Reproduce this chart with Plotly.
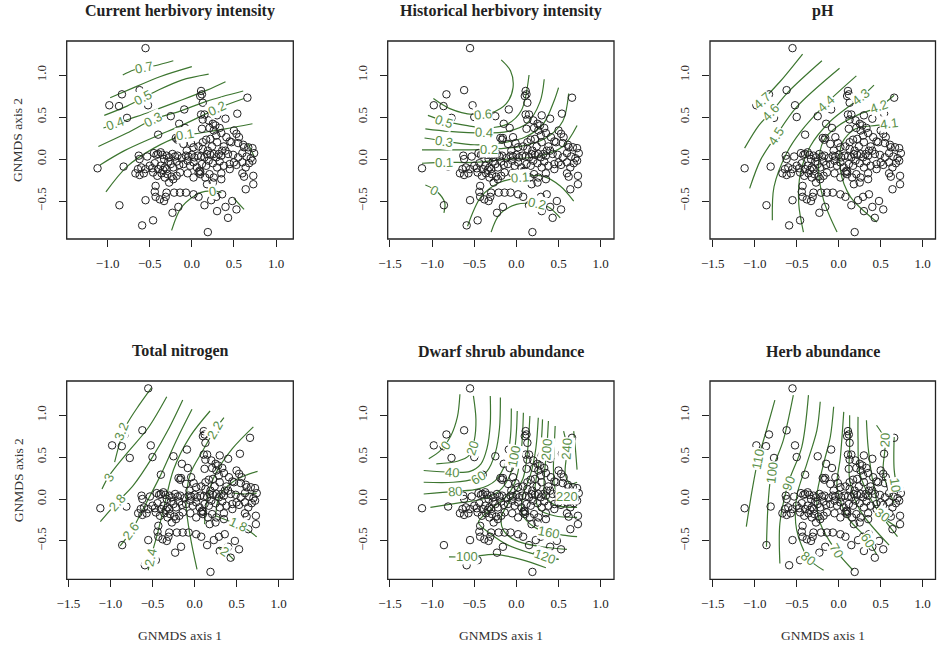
import math
import plotly.graph_objects as go

W, H = 937, 645

# ---------------- data: site scores (GNMDS axis 1 / axis 2) ----------------
site_x = [
    -0.55, -0.62, -0.83, -0.98, -0.865, -0.77, -0.52, -0.50, -0.09, -0.25,
    0.11, 0.12, 0.10, 0.66, 0.54, 0.13, 0.11, 0.15, 0.13, 0.30,
    0.40, 0.20, 0.25, -0.15, -0.08, -0.40, 0.12, 0.21, 0.28, 0.33,
    0.35, 0.26, 0.50, 0.53, 0.56, 0.45, 0.41,
    -0.19, -0.16, -0.17, -0.04, -0.01, 0.02, 0.08, 0.13, 0.17, 0.22,
    0.29, 0.38, 0.40, 0.47, 0.55, 0.61, 0.62, 0.67, 0.72, 0.30,
    0.24, 0.19, -0.10, -0.06,
    -0.63, -0.62, -0.53, -0.45, -0.42, -0.40, -0.37, -0.35, -0.33, -0.30,
    -0.27, -0.23, -0.20, -0.17, -0.12, -0.07, -0.04, 0.00, 0.03, 0.07,
    0.11, 0.15, 0.18, 0.22, 0.26, 0.29, 0.32, 0.35, 0.43, 0.49,
    0.55, 0.60, 0.65, 0.70, 0.74, 0.13, 0.36,
    -1.12, -0.81, -0.67, -0.64, -0.60, -0.55, -0.50, -0.47, -0.44, -0.40,
    -0.37, -0.34, -0.32, -0.30, -0.28, -0.25, -0.22, -0.18, -0.15, -0.10,
    -0.05, -0.02, 0.02, 0.06, 0.09, 0.10, 0.12, 0.17, 0.20, 0.25,
    0.30, 0.33, 0.38, 0.45, 0.50, 0.53, 0.60, 0.64, 0.68, 0.72,
    -0.62, -0.57, -0.46, -0.41, -0.36, -0.32, -0.29, -0.27, -0.24, -0.22,
    -0.18, -0.14, -0.05, 0.02, 0.08, 0.10, 0.16, 0.21, 0.26, 0.35,
    0.35, 0.45, 0.60, 0.62, 0.73, 0.73, 0.18, 0.25,
    -0.43, -0.44, -0.43, -0.38, -0.33, -0.31, -0.55, -0.86, -0.46, -0.59,
    -0.23, -0.16, -0.30, -0.21, -0.14, -0.07, 0.02, 0.08, 0.15, 0.19,
    0.23, 0.29, 0.36, 0.30, 0.40, 0.48, 0.53, 0.43, 0.64,
]
site_y = [
    1.32, 0.82, 0.77, 0.64, 0.63, 0.49, 0.64, 0.50, 0.59, 0.51,
    0.81, 0.77, 0.75, 0.73, 0.54, 0.67, 0.53, 0.53, 0.47, 0.52,
    0.48, 0.46, 0.42, 0.42, 0.37, 0.29, 0.36, 0.37, 0.40, 0.37,
    0.31, 0.34, 0.34, 0.30, 0.26, 0.21, 0.26,
    0.25, 0.25, 0.23, 0.26, 0.19, 0.14, 0.15, 0.20, 0.23, 0.24,
    0.28, 0.15, 0.10, 0.20, 0.19, 0.17, 0.14, 0.14, 0.13, 0.20,
    0.15, 0.10, 0.18, 0.10,
    0.04, 0.00, 0.03, 0.07, 0.05, 0.06, 0.08, 0.05, 0.00, 0.04,
    0.02, 0.06, 0.03, 0.04, 0.01, 0.04, 0.03, 0.05, 0.02, 0.04,
    0.03, 0.02, 0.06, 0.05, 0.06, 0.02, 0.06, 0.04, 0.06, 0.05,
    0.02, 0.07, 0.03, 0.01, 0.07, 0.12, 0.10,
    -0.11, -0.09, -0.17, -0.12, -0.10, -0.12, -0.08, -0.11, -0.05, -0.12,
    -0.08, -0.13, -0.10, -0.12, -0.03, -0.06, -0.10, -0.03, -0.07, -0.06,
    -0.02, -0.08, -0.04, -0.10, -0.14, -0.15, -0.06, -0.08, -0.02, -0.05,
    -0.10, -0.03, -0.08, -0.06, -0.04, -0.07, -0.04, -0.10, -0.05, -0.02,
    -0.19, -0.17, -0.16, -0.20, -0.17, -0.22, -0.18, -0.28, -0.21, -0.24,
    -0.20, -0.16, -0.17, -0.22, -0.16, -0.18, -0.22, -0.18, -0.22, -0.17,
    -0.24, -0.12, -0.17, -0.21, -0.20, -0.30, -0.30, -0.28,
    -0.32, -0.39, -0.45, -0.48, -0.50, -0.45, -0.49, -0.55, -0.73, -0.79,
    -0.64, -0.57, -0.40, -0.40, -0.40, -0.40, -0.42, -0.45, -0.55, -0.87,
    -0.49, -0.45, -0.42, -0.62, -0.57, -0.50, -0.60, -0.70, -0.36,
]

panel_titles = ["Current herbivory intensity", "Historical herbivory intensity", "pH",
                "Total nitrogen", "Dwarf shrub abundance", "Herb abundance"]

x_ticks_first = [-1.0, -0.5, 0.0, 0.5, 1.0]
x_ticks_other = [-1.5, -1.0, -0.5, 0.0, 0.5, 1.0]
y_ticks = [-0.5, 0.0, 0.5, 1.0]
x_title = "GNMDS axis 1"
y_title = "GNMDS axis 2"

# ---------------- fitted-surface isolines ----------------
# (label, x values, y values, label x, label y)
iso_current = [
    ("0.7", [-0.82, -0.69, -0.44, -0.22], [1.00, 1.06, 1.11, 1.17], -0.57, 1.09),
    ("", [-0.97, -0.69, -0.38, 0.0], [0.73, 0.85, 0.98, 1.10], None, None),
    ("0.5", [-1.04, -0.77, -0.42, -0.12, 0.20], [0.52, 0.63, 0.81, 0.94, 1.01], -0.58, 0.73),
    ("0.4", [-1.05, -0.73, -0.50, -0.18, 0.18, 0.40], [0.37, 0.48, 0.56, 0.68, 0.82, 0.92], -0.91, 0.42),
    ("0.3", [-1.11, -0.77, -0.46, -0.14, 0.18, 0.61], [0.15, 0.31, 0.47, 0.57, 0.69, 0.81], -0.46, 0.47),
    ("0.2", [-1.09, -0.80, -0.45, -0.10, 0.30, 0.62], [-0.07, 0.10, 0.26, 0.41, 0.60, 0.72], 0.30, 0.60),
    ("0.1", [-1.02, -0.77, -0.45, -0.14, 0.10, 0.40, 0.72], [-0.39, -0.09, 0.13, 0.27, 0.31, 0.36, 0.42], -0.08, 0.29),
    ("0", [-0.24, -0.12, 0.10, 0.26, 0.35], [-0.85, -0.57, -0.40, -0.38, -0.40], 0.24, -0.39),
    ("", [0.50, 0.62], [-0.47, -0.60], None, None),
    ("", [0.67, 0.74], [0.18, 0.03], None, None),
]
iso_historical = [
    ("0.6", [-0.985, -0.79, -0.51, -0.30, -0.12, -0.04, -0.07, -0.18], [0.72, 0.60, 0.53, 0.55, 0.66, 0.85, 1.05, 1.18], -0.40, 0.53),
    ("0.5", [-1.05, -0.83, -0.60, -0.35, -0.10, 0.06, 0.15], [0.52, 0.445, 0.40, 0.37, 0.42, 0.58, 1.00], -0.86, 0.45),
    ("0.4", [-1.08, -0.80, -0.39, -0.10, 0.12, 0.28, 0.33], [0.36, 0.33, 0.31, 0.33, 0.42, 0.68, 0.95], -0.39, 0.31),
    ("0.3", [-1.09, -0.83, -0.50, -0.20, 0.10, 0.32, 0.45, 0.50], [0.25, 0.21, 0.17, 0.19, 0.26, 0.42, 0.70, 0.85], -0.86, 0.21),
    ("0.2", [-1.12, -0.80, -0.33, 0.05, 0.35, 0.55, 0.62], [0.11, 0.11, 0.115, 0.15, 0.25, 0.45, 0.78], -0.33, 0.11),
    ("0.1", [-1.12, -0.83, -0.50, -0.10, 0.25, 0.55, 0.72], [-0.05, -0.04, -0.04, 0.0, 0.03, 0.15, 0.40], -0.86, -0.04),
    ("0", [-1.08, -0.95, -0.85, -0.86], [-0.31, -0.38, -0.52, -0.64], -0.97, -0.37),
    ("0.1", [-0.58, -0.42, -0.20, 0.04, 0.30, 0.52, 0.68], [-0.80, -0.45, -0.28, -0.22, -0.20, -0.32, -0.50], 0.04, -0.22),
    ("0.2", [-0.30, -0.20, 0.0, 0.20, 0.38, 0.52], [-0.87, -0.66, -0.54, -0.53, -0.57, -0.70], 0.24, -0.53),
]
iso_ph = [
    ("4.7", [-0.99, -0.90, -0.70, -0.43], [0.63, 0.71, 0.92, 1.25], -0.91, 0.70),
    ("4.6", [-1.12, -0.95, -0.81, -0.60, -0.20], [0.13, 0.40, 0.55, 0.80, 1.17], -0.81, 0.55),
    ("4.5", [-1.06, -0.93, -0.75, -0.50, 0.01], [-0.35, -0.01, 0.27, 0.62, 1.08], -0.75, 0.27),
    ("4.4", [-0.79, -0.77, -0.62, -0.45, -0.15, 0.21], [-0.73, -0.33, 0.07, 0.33, 0.66, 0.99], -0.15, 0.66),
    ("4.3", [-0.42, -0.476, -0.456, -0.34, -0.10, 0.27, 0.42], [-0.87, -0.53, -0.17, 0.15, 0.45, 0.74, 0.88], 0.27, 0.74),
    ("4.2", [-0.02, -0.18, -0.24, -0.18, -0.02, 0.26, 0.48, 0.66], [-0.87, -0.49, -0.09, 0.22, 0.385, 0.54, 0.62, 0.76], 0.48, 0.62),
    ("4.1", [0.456, 0.14, 0.02, 0.04, 0.20, 0.45, 0.60, 0.70], [-0.75, -0.45, -0.13, 0.19, 0.36, 0.40, 0.42, 0.45], 0.60, 0.42),
]
iso_nitrogen = [
    ("3.2", [-0.95, -0.88, -0.80, -0.66, -0.51], [0.44, 0.70, 0.90, 1.12, 1.33], -0.865, 0.80),
    ("3", [-1.10, -1.02, -0.80, -0.55, -0.33], [0.12, 0.27, 0.55, 0.85, 1.22], -1.02, 0.26),
    ("2.8", [-1.12, -0.92, -0.73, -0.50, -0.30, -0.14], [-0.27, -0.04, 0.16, 0.50, 0.85, 1.18], -0.92, -0.04),
    ("2.6", [-0.885, -0.75, -0.57, -0.41, -0.21, -0.03], [-0.56, -0.38, -0.04, 0.27, 0.71, 1.07], -0.75, -0.38),
    ("2.4", [-0.55, -0.52, -0.45, -0.35, -0.25, -0.05, 0.185], [-0.85, -0.70, -0.45, -0.04, 0.35, 0.75, 1.05], -0.52, -0.70),
    ("2.2", [0.03, -0.05, -0.10, -0.05, 0.10, 0.24, 0.35], [-0.84, -0.45, -0.05, 0.30, 0.58, 0.82, 0.97], 0.24, 0.82),
    ("", [0.12, 0.15, 0.25, 0.45, 0.70], [-0.30, 0.0, 0.30, 0.60, 0.86], None, None),
    ("", [0.25, 0.30, 0.45, 0.60, 0.75], [-0.22, 0.05, 0.20, 0.28, 0.33], None, None),
    ("", [0.46, 0.60, 0.74], [0.07, 0.06, 0.07], None, None),
    ("1.8", [0.25, 0.45, 0.60, 0.74], [-0.20, -0.28, -0.35, -0.45], 0.52, -0.31),
    ("2", [0.28, 0.40, 0.47], [-0.58, -0.66, -0.73], 0.36, -0.63),
]
iso_shrub = [
    ("0", [-1.04, -0.90, -0.78, -0.70, -0.67], [0.48, 0.58, 0.75, 0.98, 1.25], -0.84, 0.64),
    ("20", [-0.95, -0.70, -0.56, -0.50, -0.48, -0.51], [0.42, 0.45, 0.52, 0.70, 0.95, 1.23], -0.52, 0.60),
    ("40", [-1.10, -0.77, -0.55, -0.42, -0.35, -0.31, -0.31], [0.34, 0.32, 0.33, 0.42, 0.60, 0.90, 1.23], -0.77, 0.32),
    ("60", [-1.10, -0.75, -0.50, -0.35, -0.25, -0.20, -0.19], [0.20, 0.20, 0.24, 0.33, 0.55, 0.85, 1.21], -0.45, 0.26),
    ("80", [-1.10, -0.73, -0.45, -0.25, -0.12, -0.07, -0.06], [0.06, 0.09, 0.12, 0.22, 0.45, 0.75, 1.08], -0.73, 0.09),
    ("100", [-1.02, -0.70, -0.40, -0.20, -0.07, -0.03, 0.0, 0.01], [-0.10, -0.05, 0.0, 0.10, 0.30, 0.51, 0.80, 1.05], -0.03, 0.51),
    ("", [0.50, 0.34, 0.15, -0.10, -0.30, -0.45, -0.30, -0.10, 0.0, 0.06, 0.083],
     [-0.72, -0.69, -0.64, -0.55, -0.42, -0.28, -0.12, 0.05, 0.25, 0.60, 1.03], None, None),
    ("", [0.60, 0.30, 0.00, -0.15, -0.18, -0.05, 0.08, 0.13, 0.16],
     [-0.60, -0.57, -0.50, -0.38, -0.22, 0.02, 0.25, 0.55, 0.99], None, None),
    ("160", [0.72, 0.55, 0.39, 0.22, 0.07, 0.08, 0.17, 0.23, 0.26],
     [-0.45, -0.43, -0.40, -0.34, -0.18, 0.05, 0.30, 0.60, 0.97], 0.39, -0.40),
    ("", [0.72, 0.45, 0.27, 0.22, 0.27, 0.30, 0.31],
     [-0.22, -0.20, -0.12, 0.10, 0.45, 0.75, 0.95], None, None),
    ("200", [0.72, 0.45, 0.34, 0.33, 0.36, 0.38], [-0.10, -0.07, 0.05, 0.25, 0.59, 0.93], 0.36, 0.59),
    ("220", [0.72, 0.60, 0.47, 0.44, 0.45, 0.46], [0.03, 0.03, 0.10, 0.35, 0.65, 0.87], 0.60, 0.03),
    ("240", [0.72, 0.64, 0.58, 0.60, 0.56], [0.20, 0.18, 0.30, 0.60, 0.81], 0.60, 0.60),
    ("", [0.72, 0.70, 0.68], [0.35, 0.60, 0.81], None, None),
    ("100", [-0.80, -0.55, -0.25, 0.05, 0.35], [-0.69, -0.69, -0.66, -0.72, -0.82], -0.59, -0.69),
    ("120", [0.20, 0.34, 0.50], [-0.64, -0.69, -0.72], 0.34, -0.69),
]
iso_herb = [
    ("110", [-1.10, -1.03, -0.96, -0.86, -0.76], [-0.33, 0.11, 0.47, 0.82, 1.18], -0.96, 0.47),
    ("100", [-0.86, -0.84, -0.80, -0.66, -0.54], [-0.57, -0.05, 0.31, 0.70, 1.24], -0.80, 0.31),
    ("90", [-0.70, -0.70, -0.60, -0.44, -0.36], [-0.77, -0.29, 0.19, 0.62, 1.24], -0.60, 0.19),
    ("80", [-0.18, -0.36, -0.50, -0.50, -0.38, -0.26, -0.22], [-0.85, -0.71, -0.37, 0.03, 0.42, 0.82, 1.16], -0.36, -0.71),
    ("70", [0.17, -0.03, -0.22, -0.26, -0.18, -0.10, -0.06], [-0.85, -0.62, -0.29, 0.03, 0.42, 0.74, 1.10], -0.03, -0.62),
    ("60", [0.45, 0.35, 0.10, -0.02, 0.02, 0.06], [-0.66, -0.49, -0.21, 0.15, 0.50, 1.04], 0.35, -0.49),
    ("", [0.60, 0.25, 0.13, 0.13, 0.13], [-0.55, -0.13, 0.23, 0.62, 1.00], None, None),
    ("", [0.70, 0.41, 0.25, 0.23, 0.23], [-0.45, -0.05, 0.31, 0.70, 0.98], None, None),
    ("30", [0.72, 0.51, 0.41, 0.35, 0.33], [-0.35, -0.19, 0.19, 0.62, 0.94], 0.51, -0.19),
    ("20", [0.66, 0.53, 0.55, 0.45], [-0.05, 0.31, 0.70, 0.88], 0.55, 0.70),
    ("10", [0.70, 0.66, 0.66], [0.10, 0.35, 0.74], 0.67, 0.17),
]
panel_isolines = [iso_current, iso_historical, iso_ph, iso_nitrogen, iso_shrub, iso_herb]

# ---------------- layout geometry (pixels) ----------------
boxes = [(66.7, 293.3, 41, 239), (387.7, 614, 41, 239), (710, 935.5, 41, 239),
         (66.7, 293.3, 381, 579.3), (387.7, 614, 381, 579.3), (710, 935.5, 381, 579.3)]
x_ranges = [(-1.486, 1.205), (-1.527, 1.158), (-1.532, 1.152),
            (-1.52, 1.175), (-1.527, 1.158), (-1.532, 1.152)]
y_ranges = [(-0.952, 1.405)] * 3 + [(-0.958, 1.408)] * 3

SERIF = "Liberation Serif, Times New Roman, serif"
SANS = "Liberation Sans, Arial, sans-serif"
LINE_GREEN = "#3d7630"
LABEL_GREEN = "#5a8f48"


def label_angle(xs, ys, lx, ly, sx, sy):
    best = None
    px, py = lx * sx, ly * sy
    for i in range(len(xs) - 1):
        ax, ay = xs[i] * sx, ys[i] * sy
        bx, by = xs[i + 1] * sx, ys[i + 1] * sy
        dx, dy = bx - ax, by - ay
        l2 = dx * dx + dy * dy
        t = 0 if l2 == 0 else max(0.0, min(1.0, ((px - ax) * dx + (py - ay) * dy) / l2))
        cx, cy = ax + t * dx, ay + t * dy
        d = (px - cx) ** 2 + (py - cy) ** 2
        if best is None or d < best[0]:
            best = (d, math.degrees(math.atan2(dy, dx)))
    a = best[1]
    if a > 90:
        a -= 180
    if a < -90:
        a += 180
    return -a


fig = go.Figure()
layout = dict(width=W, height=H, margin=dict(l=0, r=0, t=0, b=0, autoexpand=False),
              plot_bgcolor="white", paper_bgcolor="white", showlegend=False)
shapes = []
annotations = []

for i in range(6):
    n = i + 1
    sfx = "" if n == 1 else str(n)
    xa, ya = "x" + sfx, "y" + sfx
    x0p, x1p, y0p, y1p = boxes[i]
    xr, yr = x_ranges[i], y_ranges[i]
    sx = (x1p - x0p) / (xr[1] - xr[0])
    sy = (y1p - y0p) / (yr[1] - yr[0])

    layout["xaxis" + sfx] = dict(
        domain=[x0p / W, x1p / W], anchor=ya, range=list(xr), automargin=False,
        tickvals=x_ticks_first if i == 0 else x_ticks_other, tickformat=".1f",
        ticks="outside", ticklen=7, tickwidth=1, tickcolor="#222",
        showgrid=False, zeroline=False, showline=False,
        tickfont=dict(family=SERIF, size=13, color="#222"), ticklabelstandoff=5)
    layout["yaxis" + sfx] = dict(
        domain=[1 - y1p / H, 1 - y0p / H], anchor=xa, range=list(yr), automargin=False,
        tickvals=y_ticks, tickformat=".1f", tickangle=-90,
        ticks="outside", ticklen=7, tickwidth=1, tickcolor="#222",
        showgrid=False, zeroline=False, showline=False,
        tickfont=dict(family=SERIF, size=13, color="#3a3330"), ticklabelstandoff=8)

    shapes.append(dict(type="rect", xref=xa + " domain", yref=ya + " domain",
                       x0=0, x1=1, y0=0, y1=1, line=dict(color="#222", width=1.3),
                       fillcolor="rgba(0,0,0,0)", layer="above"))

    for (lab, xs, ys, lx, ly) in panel_isolines[i]:
        fig.add_trace(go.Scatter(x=xs, y=ys, mode="lines", xaxis=xa, yaxis=ya,
                                 line=dict(color=LINE_GREEN, width=1.2, shape="spline", smoothing=0.9),
                                 hoverinfo="skip"))
        if lab and lx is not None:
            ang = label_angle(xs, ys, lx, ly, sx, sy)
            annotations.append(dict(x=lx, y=ly, xref=xa, yref=ya, text=lab, showarrow=False,
                                    textangle=ang, bgcolor="white", borderpad=0,
                                    font=dict(family=SANS, size=13, color=LABEL_GREEN)))

    fig.add_trace(go.Scatter(x=site_x, y=site_y, mode="markers", xaxis=xa, yaxis=ya,
                             marker=dict(symbol="circle-open", size=7.5, color="#222",
                                         line=dict(width=1, color="#222")),
                             hoverinfo="skip"))

    # panel title
    annotations.append(dict(x=(x0p + x1p) / 2 / W, y=1 - (y0p - 30) / H, xref="paper", yref="paper",
                            text="<b>" + panel_titles[i] + "</b>", showarrow=False,
                            xanchor="center", yanchor="middle",
                            font=dict(family=SERIF, size=16, color="#222")))
    if i in (0, 3):
        annotations.append(dict(x=18 / W, y=1 - (y0p + y1p) / 2 / H, xref="paper", yref="paper",
                                text=y_title, showarrow=False, textangle=-90,
                                xanchor="center", yanchor="middle",
                                font=dict(family=SERIF, size=13.5, color="#333")))
    if i >= 3:
        annotations.append(dict(x=(x0p + x1p) / 2 / W, y=1 - 635 / H, xref="paper", yref="paper",
                                text=x_title, showarrow=False,
                                xanchor="center", yanchor="middle",
                                font=dict(family=SERIF, size=13.5, color="#333")))

layout["shapes"] = shapes
layout["annotations"] = annotations
fig.update_layout(**layout)
fig.write_html("out.html", config={"displayModeBar": False, "staticPlot": True},
               post_script="document.body.style.margin='0';document.body.style.overflow='hidden';")
